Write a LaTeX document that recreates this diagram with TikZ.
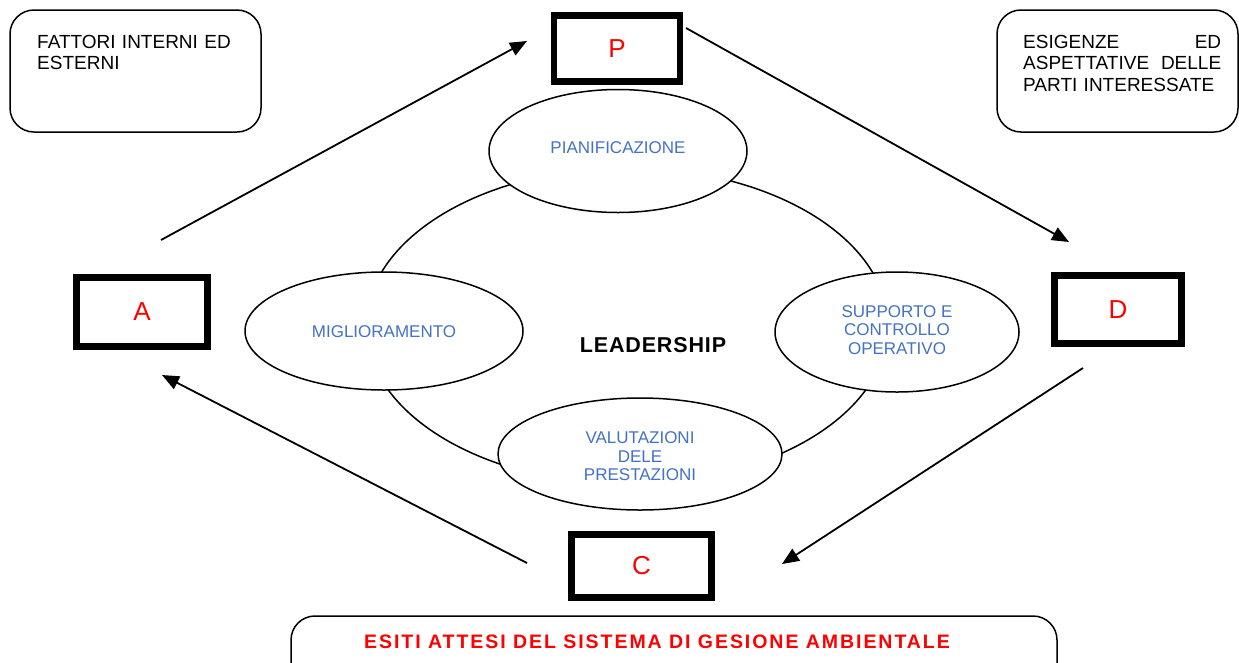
\documentclass[tikz,border=0pt]{standalone}
\usepackage{fontspec}
\setmainfont{Liberation Sans}
\usetikzlibrary{arrows.meta,shapes.geometric}
\definecolor{accblue}{RGB}{68,114,196}
\begin{document}
\begin{tikzpicture}[x=1pt,y=-1pt,
  pdca/.style={draw, line width=6.5pt, text=red, font=\fontsize{26}{30}\selectfont, inner sep=0pt},
  softbox/.style={draw, line width=1.5pt, rounded corners=24pt},
  oval/.style={ellipse, draw, line width=1.5pt, fill=white, inner sep=0pt},
  ovaltext/.style={text=accblue, font=\fontsize{17}{18.5}\selectfont, align=center, inner sep=0pt},
  plaintext/.style={font=\fontsize{19}{21.5}\selectfont, inner sep=0pt, align=left},
  flow/.style={line width=1.8pt, -{Triangle[length=17pt,width=14pt]}}
]
\useasboundingbox (0,0) rectangle (1239,662);

% rounded boxes
\draw[softbox] (10,10) rectangle (261,132);
\node[plaintext, anchor=north west, text width=220pt] (fattori) at (37,35) {FATTORI INTERNI ED\\ESTERNI};
\draw[softbox] (997,10) rectangle (1238,132);
\node[plaintext, anchor=north west, text width=198pt] (esigenze) at (1023,35) {ESIGENZE\hfill ED\\ASPETTATIVE\hfill DELLE\\PARTI INTERESSATE};
\draw[softbox] (291,672) -- (291,616) -- (1057,616) -- (1057,672);
\node[text=red, font=\bfseries\fontsize{19.5}{22}\selectfont\addfontfeature{LetterSpace=10}, inner sep=0pt] (esiti) at (657,642) {ESITI ATTESI DEL SISTEMA DI GESIONE AMBIENTALE};

% central ellipse
\node[ellipse, draw, line width=1.5pt, minimum width=522pt, minimum height=316pt] (lead) at (627,326) {};
\node[font=\bfseries\fontsize{21.5}{24}\selectfont\addfontfeature{LetterSpace=4}, inner sep=0pt] (leadtxt) at (653,345) {LEADERSHIP};

\node[oval, minimum width=258pt, minimum height=123pt] (pian) at (618,151) {};
\node[ovaltext] (piantxt) at (618,148) {PIANIFICAZIONE};
\node[oval, minimum width=278pt, minimum height=118pt] (migl) at (384,331) {};
\node[ovaltext] (migltxt) at (384,332) {MIGLIORAMENTO};
\node[oval, minimum width=244pt, minimum height=120pt] (supp) at (897,332) {};
\node[ovaltext] (supptxt) at (897,330) {SUPPORTO E\\CONTROLLO\\OPERATIVO};
\node[oval, minimum width=284pt, minimum height=112pt] (valu) at (640,454) {};
\node[ovaltext] (valutxt) at (640,456.5) {VALUTAZIONI\\DELE\\PRESTAZIONI};

% PDCA boxes
\node[pdca, minimum width=126pt, minimum height=66pt] (P) at (617,48.5) {P};
\node[pdca, minimum width=127pt, minimum height=68pt] (D) at (1118,309.5) {D};
\node[pdca, minimum width=131pt, minimum height=69pt] (A) at (142,312) {A};
\node[pdca, minimum width=140pt, minimum height=63pt] (C) at (641.5,566) {C};

% arrow ends
\coordinate (apS) at (161,240);
\coordinate (apE) at (527,41);
\coordinate (pdS) at (686,28);
\coordinate (pdE) at (1069,242);
\coordinate (dcS) at (1083,368);
\coordinate (dcE) at (782,564);
\coordinate (caS) at (527,563);
\coordinate (caE) at (162,375);

\draw[flow] (apS) -- (apE);
\draw[flow] (pdS) -- (pdE);
\draw[flow] (dcS) -- (dcE);
\draw[flow] (caS) -- (caE);
\end{tikzpicture}
\end{document}
